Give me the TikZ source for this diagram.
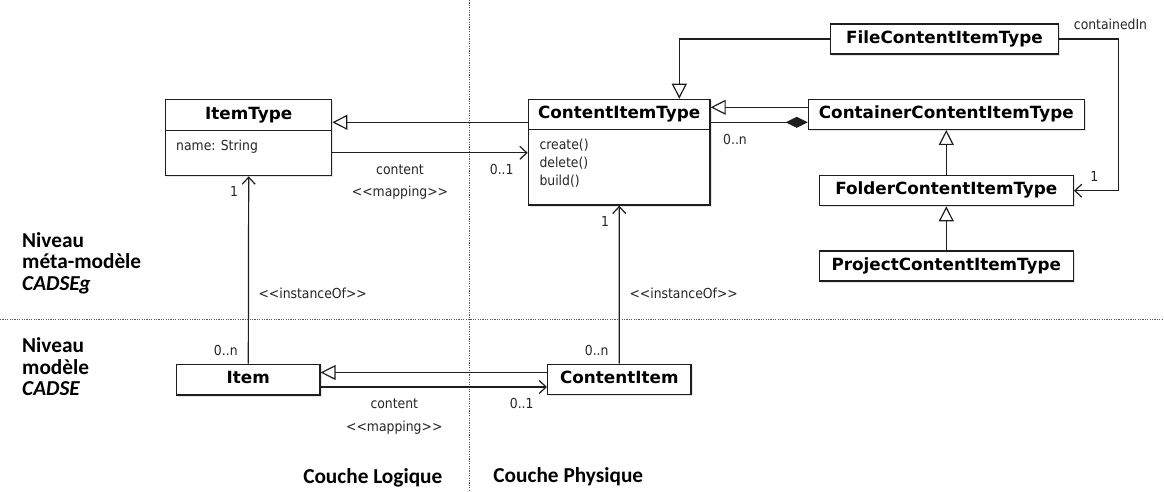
\documentclass[tikz,border=0pt]{standalone}
\usepackage{fontspec}
\setmainfont{DejaVu Sans}
\newfontfamily\lblfont{DejaVu Sans Condensed}
\newfontfamily\sidefont{Carlito}
\usetikzlibrary{arrows.meta,shadows}
\definecolor{ink}{HTML}{1E1E1E}
\definecolor{lblc}{HTML}{262626}
\definecolor{sepc}{HTML}{555555}
\tikzset{
  x=1pt, y=-1pt,
  cls/.style={draw=ink, line width=1.3pt, fill=white, inner sep=0pt,
    font=\fontsize{16.8}{18}\selectfont\bfseries, text=black,
    text height=12pt, text depth=3.5pt,
    drop shadow={shadow xshift=1.6pt, shadow yshift=-1.6pt, opacity=0.35, fill=gray!60}},
  ctitle/.style={font=\fontsize{16.8}{18}\selectfont\bfseries, text=black, inner sep=0pt,
    text height=12pt, text depth=3.5pt},
  lbl/.style={font=\lblfont\fontsize{13.8}{15}\selectfont, text=lblc, inner sep=0pt,
    text height=10pt, text depth=3pt},
  side/.style={font=\sidefont\fontsize{21.3}{24}\selectfont\bfseries, text=black, inner sep=0pt,
    anchor=west, text height=14pt, text depth=4pt},
  sidei/.style={side, font=\sidefont\fontsize{21.3}{24}\selectfont\bfseries\itshape},
  boxline/.style={draw=ink, line width=1.3pt},
  gen/.style={draw=ink, line width=1.2pt, -{Triangle[open, length=15pt, width=15pt, fill=white]}},
  assoc/.style={draw=ink, line width=1.2pt, -{Straight Barb[length=7pt, width=13pt]}},
  comp/.style={draw=ink, line width=1.2pt, -{Diamond[length=22pt, width=11pt]}},
  sepline/.style={draw=sepc, line width=1pt, dash pattern=on 1.2pt off 1.2pt}
}
\begin{document}
\begin{tikzpicture}
\useasboundingbox[fill=white] (0,0) rectangle (1164,492);
% separating dotted lines
\coordinate (vt) at (469,0);
\coordinate (vb) at (469,492);
\coordinate (hl) at (0,319.5);
\coordinate (hr) at (1164,319.5);
\draw[sepline] (vt) -- (vb);
\draw[sepline] (hl) -- (hr);

% side labels
\node[side] (niv1) at (22,242.3) {Niveau};
\node[side] (meta) at (22,263.3) {méta-modèle};
\node[sidei] (cadseg) at (22,285) {CADSEg};
\node[side] (niv2) at (22,347.3) {Niveau};
\node[side] (modele) at (22,369.3) {modèle};
\node[sidei] (cadse) at (22,390) {CADSE};
\node[side, anchor=center] (clog) at (372.8,478.3) {Couche Logique};
\node[side, anchor=center] (cphy) at (568.3,477) {Couche Physique};

% ItemType
\node[cls, minimum width=166pt, minimum height=76.4pt] (ItemType) at (248.7,137.5) {};
\node[ctitle] (ItemTypeT) at (248.7,115) {ItemType};
\draw[boxline] (ItemType.west |- 0,130.7) -- (ItemType.east |- 0,130.7);
\node[lbl, anchor=west] (ItemTypeA) at (176,146.7) {name: String};

% ContentItemType
\node[cls, minimum width=181.7pt, minimum height=105.7pt] (CIT) at (619.2,152.2) {};
\node[ctitle] (CITT) at (619.2,114.3) {ContentItemType};
\draw[boxline] (CIT.west |- 0,129.3) -- (CIT.east |- 0,129.3);
\node[lbl, anchor=west] (m1) at (539.3,145.7) {create()};
\node[lbl, anchor=west] (m2) at (539.3,163.7) {delete()};
\node[lbl, anchor=west] (m3) at (539.3,181.7) {build()};

% right hierarchy
\node[cls, minimum width=227.6pt, minimum height=30pt] (File) at (944.5,39) {FileContentItemType};
\node[cls, minimum width=276pt, minimum height=30pt] (Container) at (946.3,114.3) {ContainerContentItemType};
\node[cls, minimum width=254pt, minimum height=30pt] (Folder) at (946.3,190.7) {FolderContentItemType};
\node[cls, minimum width=254pt, minimum height=30pt] (Project) at (946.3,266) {ProjectContentItemType};

% model level
\node[cls, minimum width=143.3pt, minimum height=30.7pt] (Item) at (248.3,379.7) {Item};
\node[cls, minimum width=143.3pt, minimum height=30pt] (ContentItem) at (619.3,379.3) {ContentItem};

% connectors
\draw[gen] (Container.west |- 0,107.3) -- (CIT.east |- 0,107.3);
\draw[comp] (CIT.east |- 0,122.3) -- (Container.west |- 0,122.3);
\coordinate (fk) at (679.3,39);
\draw[gen] (File.west) -- (fk) -- (fk |- CIT.north);
\coordinate (ck) at (1118.3,39);
\draw[assoc] (File.east) -- (ck) -- (ck |- Folder.east) -- (Folder.east);
\draw[gen] (Folder.north) -- (Container.south);
\draw[gen] (Project.north) -- (Folder.south);
\draw[gen] (CIT.west |- 0,122.3) -- (ItemType.east |- 0,122.3);
\draw[assoc] (ItemType.east |- 0,152.8) -- (CIT.west |- 0,152.8);
\draw[assoc] (Item.north) -- (ItemType.south);
\draw[assoc] (ContentItem.north) -- (CIT.south);
\draw[gen] (ContentItem.west |- 0,372.5) -- (Item.east |- 0,372.5);
\draw[assoc] (Item.east |- 0,387) -- (ContentItem.west |- 0,387);

% labels
\node[lbl] (l1) at (400,170.7) {content};
\node[lbl] (l2) at (400,193.3) {<{}<mapping>{}>};
\node[lbl] (l3) at (501.7,170.7) {0..1};
\node[lbl] (l4) at (735,140.7) {0..n};
\node[lbl] (l5) at (234,193) {1};
\node[lbl] (l6) at (605,223.3) {1};
\node[lbl] (l7) at (1094.3,177.7) {1};
\node[lbl] (l8) at (1110.5,26) {containedIn};
\node[lbl, anchor=west] (l9) at (258.3,295) {<{}<instanceOf>{}>};
\node[lbl, anchor=west] (l10) at (629.3,295) {<{}<instanceOf>{}>};
\node[lbl] (l11) at (225.8,351.7) {0..n};
\node[lbl] (l12) at (596.7,352.3) {0..n};
\node[lbl] (l13) at (394.3,405) {content};
\node[lbl] (l14) at (394.3,427.7) {<{}<mapping>{}>};
\node[lbl] (l15) at (521.7,405) {0..1};
\end{tikzpicture}
\end{document}
